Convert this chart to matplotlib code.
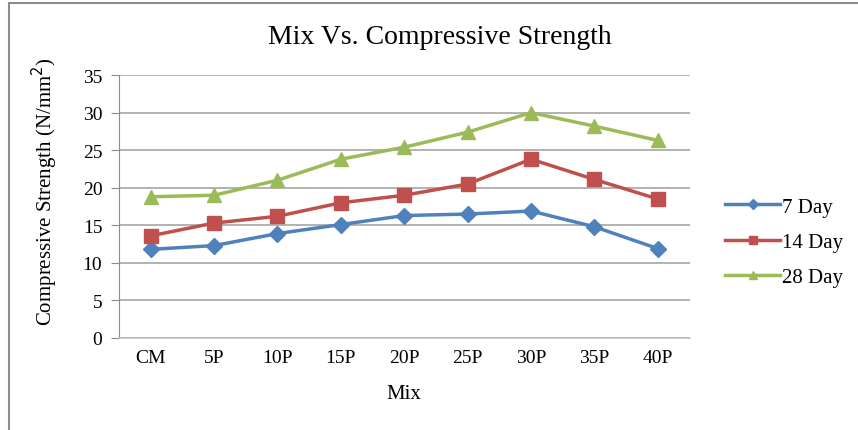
import matplotlib
matplotlib.use("Agg")
import matplotlib.pyplot as plt
from matplotlib.patches import Rectangle

# data
mixes = ["CM", "5P", "10P", "15P", "20P", "25P", "30P", "35P", "40P"]
day7 = [11.8, 12.3, 13.9, 15.1, 16.3, 16.5, 16.9, 14.8, 11.9]
day14 = [13.6, 15.3, 16.2, 18.0, 19.0, 20.5, 23.8, 21.1, 18.5]
day28 = [18.8, 19.0, 21.0, 23.8, 25.4, 27.4, 30.0, 28.2, 26.3]

plt.rcParams['font.family'] = ['Liberation Serif', 'DejaVu Serif']

fig = plt.figure(figsize=(8.58, 4.31), dpi=100)
ax = fig.add_axes([0.1387, 0.2135, 0.665, 0.61])

# outer chart frame
fig.patches.append(Rectangle((0.011, -0.01), 1.0, 1.0, transform=fig.transFigure,
                             fill=False, edgecolor="#8c8c8c", linewidth=1.5))

x = range(len(mixes))
ax.plot(x, day7, color="#4F81BD", marker="D", markersize=8, linewidth=2.5, label="7 Day")
ax.plot(x, day14, color="#C0504D", marker="s", markersize=10, linewidth=2.5, label="14 Day")
ax.plot(x, day28, color="#9BBB59", marker="^", markersize=10, linewidth=2.5, label="28 Day")

ax.set_xlim(-0.5, len(mixes) - 0.5)
ax.set_ylim(0, 35)
ax.set_yticks(range(0, 36, 5))
ax.set_xticks(list(x))
ax.set_xticklabels(mixes)
ax.yaxis.grid(True, color="#a6a6a6", linewidth=1.2)
ax.set_axisbelow(True)

for s in ["top", "right"]:
    ax.spines[s].set_visible(False)
ax.spines["left"].set_color("#8c8c8c")
ax.spines["bottom"].set_color("#d0d0d0")
ax.tick_params(axis="x", length=0, labelsize=14, pad=8)
ax.tick_params(axis="y", length=6, color="#8c8c8c", labelsize=14, pad=6)

fig.text(440 / 858, 1 - 38 / 431, "Mix Vs. Compressive Strength", fontsize=20,
         ha="center", va="center")
ax.set_xlabel("Mix", fontsize=15, labelpad=13)
fig.text(45 / 858, 1 - 192 / 431, "Compressive Strength (N/mm$^2$)", fontsize=15,
         rotation=90, ha="center", va="center")

ax.legend(loc="center left", bbox_to_anchor=(1.03, 0.365), frameon=False,
          fontsize=15, handlelength=2.6, markerscale=0.6, labelspacing=0.75,
          handletextpad=0.1)

fig.savefig("out.png", dpi=100)
